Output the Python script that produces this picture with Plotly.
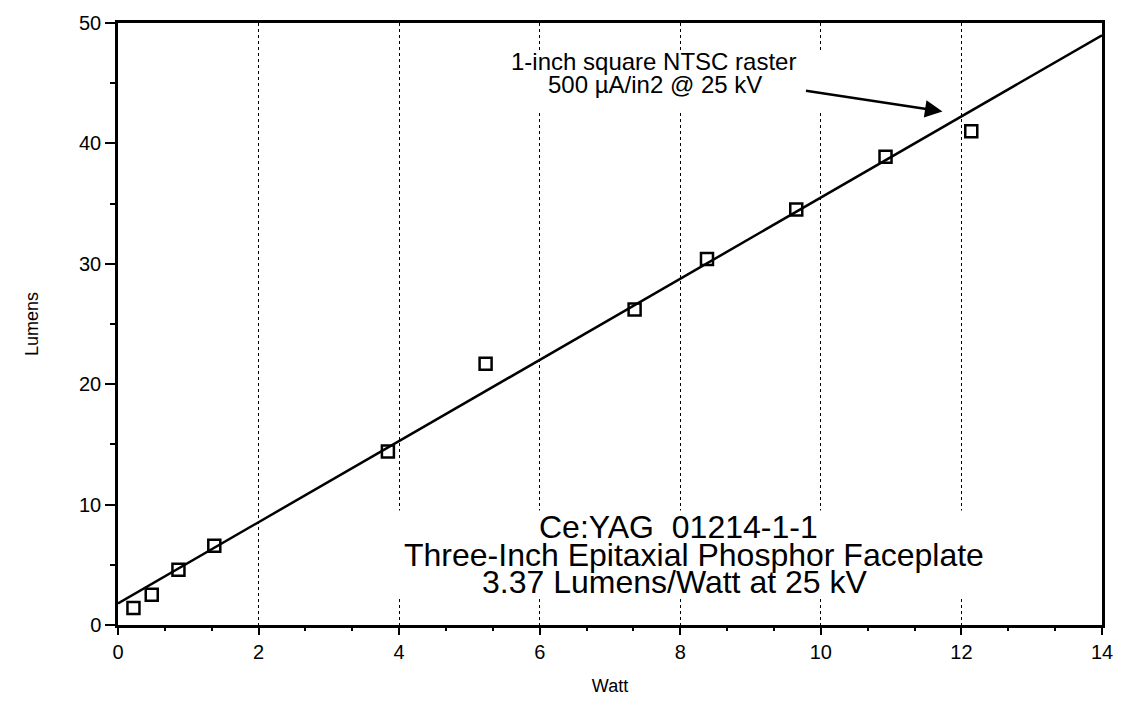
import plotly.graph_objects as go

# Measured luminous output versus beam power
watt = [0.22, 0.48, 0.86, 1.37, 3.84, 5.23, 7.35, 8.38, 9.65, 10.92, 12.14]
lumens = [1.42, 2.52, 4.58, 6.58, 14.4, 21.7, 26.2, 30.4, 34.5, 38.9, 41.0]

# Linear fit: 3.37 lumens per watt
fit_slope = 3.37
fit_intercept = 1.8
fit_x = [0, 14]
fit_y = [fit_intercept + fit_slope * x for x in fit_x]

x_ticks = [0, 2, 4, 6, 8, 10, 12, 14]
y_ticks = [0, 10, 20, 30, 40, 50]

FONT = "Liberation Sans, Arial, Helvetica, sans-serif"

fig = go.Figure()
fig.add_trace(go.Scatter(
    x=fit_x, y=fit_y, mode="lines",
    line=dict(color="black", width=2.5), showlegend=False,
))
fig.add_trace(go.Scatter(
    x=watt, y=lumens, mode="markers",
    marker=dict(symbol="square-open", size=12, color="black",
                line=dict(color="black", width=2.5)),
    showlegend=False,
))

# white panels behind the text blocks so the grid breaks around them
fig.add_shape(type="rect", xref="x", yref="y", x0=5.2, x1=10.15, y0=42.7, y1=47.7,
              fillcolor="white", line=dict(width=0), layer="above")
fig.add_shape(type="rect", xref="x", yref="y", x0=3.9, x1=12.45, y0=2.2, y1=9.5,
              fillcolor="white", line=dict(width=0), layer="above")

note_font = dict(family=FONT, size=24, color="black")
fig.add_annotation(x=7.62, y=46.8, xref="x", yref="y", text="1-inch square NTSC raster",
                   showarrow=False, font=note_font)
fig.add_annotation(x=7.64, y=44.9, xref="x", yref="y", text="500 µA/in2 @ 25 kV",
                   showarrow=False, font=note_font)
fig.add_annotation(x=11.73, y=42.65, xref="x", yref="y", text="", showarrow=True,
                   ax=-138, ay=-21, arrowhead=2, arrowsize=1.4, arrowwidth=2.5,
                   arrowcolor="black")

big_font = dict(family=FONT, size=32, color="black")
fig.add_annotation(x=7.98, y=8.15, xref="x", yref="y", text="Ce:YAG  01214-1-1",
                   showarrow=False, font=big_font)
fig.add_annotation(x=8.2, y=5.85, xref="x", yref="y",
                   text="Three-Inch Epitaxial Phosphor Faceplate",
                   showarrow=False, font=big_font)
fig.add_annotation(x=7.92, y=3.55, xref="x", yref="y", text="3.37 Lumens/Watt at 25 kV",
                   showarrow=False, font=big_font)

fig.update_xaxes(
    range=[0, 14], tickvals=x_ticks, ticks="outside", ticklen=7, tickwidth=2,
    tickcolor="black", showline=True, linewidth=2.5, linecolor="black", mirror=True,
    showgrid=True, gridcolor="black", gridwidth=1, griddash="dot", zeroline=False,
    minor=dict(dtick=2 / 3, ticks="outside", ticklen=3, tickwidth=1.5,
               tickcolor="black", showgrid=False),
    tickfont=dict(family=FONT, size=20, color="black"),
    title=dict(text="Watt", font=dict(family=FONT, size=18, color="black"), standoff=18),
)
fig.update_yaxes(
    range=[0, 50], tickvals=y_ticks, ticks="outside", ticklen=10, tickwidth=2,
    tickcolor="black", showline=True, linewidth=2.5, linecolor="black", mirror=True,
    showgrid=False, zeroline=False,
    minor=dict(dtick=5, ticks="outside", ticklen=5, tickwidth=2,
               tickcolor="black", showgrid=False),
    tickfont=dict(family=FONT, size=20, color="black"),
    title=dict(text="Lumens", font=dict(family=FONT, size=18, color="black"), standoff=36),
)

fig.update_layout(
    width=1125, height=712,
    margin=dict(l=118, r=13, t=19, b=87),
    paper_bgcolor="white", plot_bgcolor="white",
)

fig.write_html("out.html")
